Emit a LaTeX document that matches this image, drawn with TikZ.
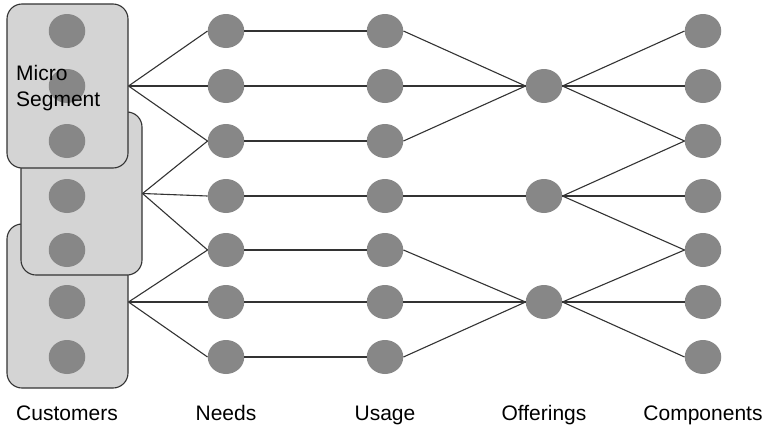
\documentclass[tikz,border=0pt]{standalone}
\usepackage{fontspec}
\setmainfont{Liberation Sans}
\usetikzlibrary{shapes.geometric}
\definecolor{dotgray}{HTML}{878787}
\definecolor{boxgray}{HTML}{D4D4D4}
\definecolor{linegray}{HTML}{333333}
\begin{document}
\begin{tikzpicture}[x=1pt,y=-1pt,
  dot/.style={ellipse,inner sep=0pt,minimum width=36.5pt,minimum height=34pt,fill=dotgray,draw=none},
  segbox/.style={rectangle,rounded corners=15pt,fill=boxgray,draw=linegray,line width=1.1pt,
                 minimum width=121pt,minimum height=164pt,inner sep=0pt},
  link/.style={draw=linegray,line width=1.1pt},
  caption/.style={anchor=base,inner sep=0pt,font=\fontsize{21}{25}\selectfont}]
\useasboundingbox (0,0) rectangle (766,426);

% customer segments, lowest first so the upper ones overlap it
\node[segbox] (box3) at (67.5,306) {};
\node[segbox,minimum height=163pt] (box2) at (81.5,193.5) {};
\node[segbox] (box1) at (67.5,86) {};

% dot columns
\foreach \i/\y in {1/31,2/86,3/141,4/196,5/250,6/302,7/357}{
  \node[dot] (cu\i) at (67,\y) {};
  \node[dot] (ne\i) at (226,\y) {};
  \node[dot] (us\i) at (385,\y) {};
  \node[dot] (co\i) at (703,\y) {};
}
\node[dot] (of1) at (544,86) {};
\node[dot] (of2) at (544,196) {};
\node[dot] (of3) at (544,302) {};

% segments to needs
\coordinate (s1) at (box1.east);
\coordinate (s2) at (box2.east);
\coordinate (s3) at (box3.east |- cu6.center);
\foreach \n in {1,2,3} \draw[link] (s1) -- (ne\n.west);
\foreach \n in {3,4,5} \draw[link] (s2) -- (ne\n.west);
\foreach \n in {5,6,7} \draw[link] (s3) -- (ne\n.west);

% needs to usage
\foreach \n in {1,...,7} \draw[link] (ne\n.east) -- (us\n.west);

% usage to offerings
\foreach \n in {1,2,3} \draw[link] (us\n.east) -- (of1.west);
\draw[link] (us4.east) -- (of2.west);
\foreach \n in {5,6,7} \draw[link] (us\n.east) -- (of3.west);

% offerings to components
\foreach \n in {1,2,3} \draw[link] (of1.east) -- (co\n.west);
\foreach \n in {3,4,5} \draw[link] (of2.east) -- (co\n.west);
\foreach \n in {5,6,7} \draw[link] (of3.east) -- (co\n.west);

% segment label
\node[anchor=base west,align=left,inner sep=0pt,
      font=\fontsize{21}{26}\selectfont] (seglabel) at (16,106) {Micro\\Segment};

% column captions
\node[caption] (lcu) at (67,420) {Customers};
\node[caption] (lne) at (226,420) {Needs};
\node[caption] (lus) at (385,420) {Usage};
\node[caption] (lof) at (544,420) {Offerings};
\node[caption] (lco) at (703,420) {Components};
\end{tikzpicture}
\end{document}
